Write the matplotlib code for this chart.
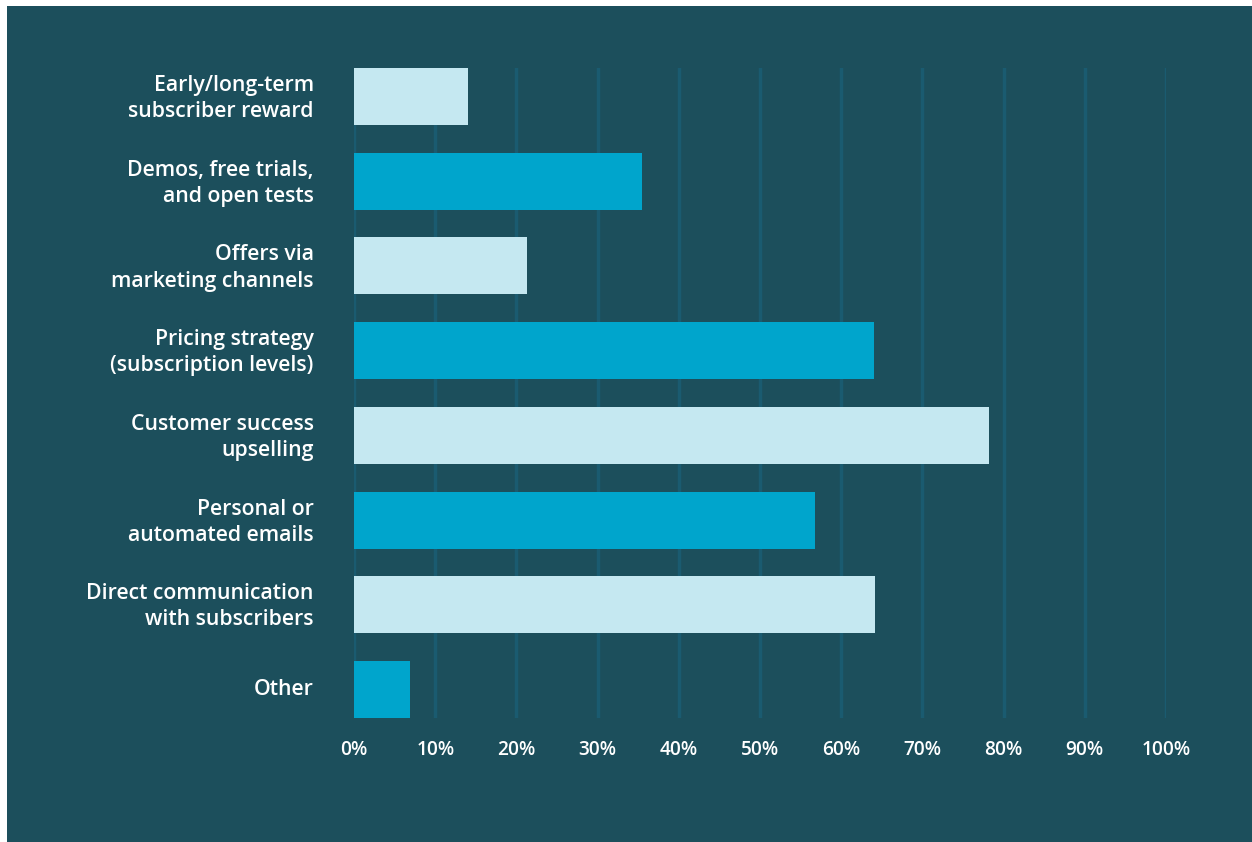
import matplotlib.pyplot as plt
import matplotlib.transforms as mtransforms
from matplotlib.patches import Rectangle

# Survey answers, top to bottom
labels = [
    "Early/long-term\nsubscriber reward",
    "Demos, free trials,\nand open tests",
    "Offers via\nmarketing channels",
    "Pricing strategy\n(subscription levels)",
    "Customer success\nupselling",
    "Personal or\nautomated emails",
    "Direct communication\nwith subscribers",
    "Other",
]
shares = [14.0, 35.5, 21.3, 64.0, 78.2, 56.8, 64.2, 6.9]
ticks = [0, 10, 20, 30, 40, 50, 60, 70, 80, 90, 100]

bg = "#1c4f5c"
light = "#c5e8f1"
dark = "#00a5cc"
grid_col = "#1a5b70"

plt.rcParams['font.family'] = ['Open Sans', 'DejaVu Sans']

fig = plt.figure(figsize=(12.52, 8.42), dpi=100)
fig.patch.set_facecolor("white")
# dark panel behind everything
fig.patches.append(Rectangle((7 / 1252, 0), 1 - 7 / 1252, 1 - 6 / 842,
                             transform=fig.transFigure, facecolor=bg,
                             edgecolor="none", zorder=-10))

ax = fig.add_axes([354 / 1252, 1 - 718 / 842, 812 / 1252, 650 / 842])
ax.set_zorder(5)
ax.set_facecolor("none")

h = 0.67
y = list(range(len(labels)))
colors = [light if i % 2 == 0 else dark for i in y]
ax.barh(y, shares, height=h, color=colors, zorder=3)

ax.set_xlim(0, 100)
ax.set_ylim(len(labels) - 1 + h / 2, -h / 2)

for t in ticks:
    ax.axvline(t, color=grid_col, lw=2.5, zorder=1)

ax.set_xticks(ticks)
ax.set_xticklabels([f"{t}%" for t in ticks], color="white", fontsize=13.7,
                   fontweight="semibold")
ax.set_yticks(y)
ax.set_yticklabels(labels, color="white", fontsize=15.3, fontweight="semibold",
                   linespacing=1.32)
ax.tick_params(axis="x", length=0, pad=16)
ax.tick_params(axis="y", length=0, pad=29)
# nudge the category labels up a little
shift = mtransforms.ScaledTranslation(0, 3 / 100, fig.dpi_scale_trans)
for lab in ax.get_yticklabels():
    lab.set_transform(lab.get_transform() + shift)
for s in ax.spines.values():
    s.set_visible(False)

fig.savefig("out.png", dpi=100, facecolor=fig.get_facecolor())
